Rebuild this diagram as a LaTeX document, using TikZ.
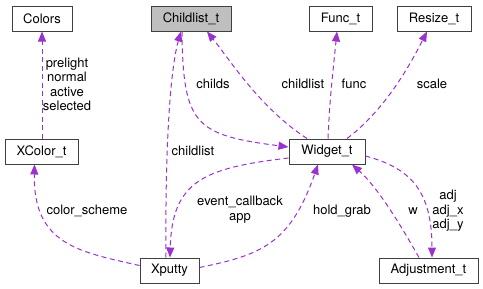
\documentclass[tikz,border=0pt]{standalone}
\usepackage{fontspec}
\setmainfont{TeX Gyre Heros}
\usetikzlibrary{arrows.meta}

\definecolor{edgepurple}{HTML}{9A32CD}
\definecolor{boxgray}{HTML}{BFBFBF}
\definecolor{boxline}{HTML}{404040}

\tikzset{
  cls/.style={draw=boxline, line width=1pt, minimum height=25pt, inner sep=0pt,
    font=\fontsize{13}{15}\selectfont},
  uses/.style={draw=edgepurple, line width=1pt, dash pattern=on 5pt off 3.5pt,
    -{Triangle[length=10pt,width=8pt,fill=edgepurple]}},
  lbl/.style={font=\fontsize{13}{14.5}\selectfont, align=center, inner sep=0pt},
}

\begin{document}
\begin{tikzpicture}[x=1pt, y=-1pt]
  \useasboundingbox (0,0) rectangle (483,289);

  % classes
  \node[cls, minimum width=60pt] (colors) at (42,18.5) {Colors};
  \node[cls, minimum width=80pt, fill=boxgray] (childlist) at (191,18.5) {Childlist\_t};
  \node[cls, minimum width=63pt] (func) at (340.5,18.5) {Func\_t};
  \node[cls, minimum width=74pt] (resize) at (434,18.5) {Resize\_t};
  \node[cls, minimum width=73pt] (xcolor) at (41.5,151.5) {XColor\_t};
  \node[cls, minimum width=76pt] (widget) at (327,151.5) {Widget\_t};
  \node[cls, minimum width=59pt] (xputty) at (169.5,270.5) {Xputty};
  \node[cls, minimum width=99pt] (adjust) at (428.5,270.5) {Adjustment\_t};

  % member links
  \draw[uses] ([xshift=0.5pt]xcolor.north) -- (colors.south);
  \draw[uses] ([yshift=5pt]xputty.west) .. controls (80,252) and (33,245) .. ([xshift=-7pt]xcolor.south);
  \draw[uses] ([xshift=-9pt]childlist.south) .. controls (183,125) and (195,135) .. ([yshift=4.5pt]widget.west);
  \draw[uses] ([xshift=-20pt]widget.north) .. controls (260,108) and (230,60) .. ([xshift=16pt]childlist.south);
  \draw[uses] ([xshift=-3.5pt]xputty.north) .. controls (165,150) and (170,70) .. ([xshift=-10pt]childlist.south);
  \draw[uses] ([xshift=1pt]widget.north) .. controls (330,100) .. ([xshift=-3.5pt]func.south);
  \draw[uses] ([xshift=20pt]widget.north) .. controls (385,110) and (410,65) .. ([xshift=-7pt]resize.south);
  \draw[uses] ([yshift=-6.5pt]widget.west) .. controls (205,168) and (172,180) .. ([xshift=0.5pt]xputty.north);
  \draw[uses] ([yshift=3pt]xputty.east) .. controls (260,255) and (290,245) .. ([xshift=-9pt]widget.south);
  \draw[uses] ([xshift=-9.5pt]adjust.north) .. controls (395,215) and (375,185) .. ([xshift=25pt]widget.south);
  \draw[uses] ([yshift=-4.5pt]widget.east) .. controls (410,168) and (432,190) .. ([xshift=3.5pt]adjust.north);

  % member names
  \node[lbl] (l-colors) at (67,84.5) {prelight\\normal\\active\\selected};
  \node[lbl] (l-scheme) at (87,211) {color\_scheme};
  \node[lbl] (l-childs) at (213,84) {childs};
  \node[lbl] (l-xlist) at (193,151) {childlist};
  \node[lbl] (l-wlist) at (303,84) {childlist};
  \node[lbl] (l-func) at (354,84) {func};
  \node[lbl] (l-scale) at (432,84) {scale};
  \node[lbl] (l-event) at (240,209.5) {event\_callback\\app};
  \node[lbl] (l-grab) at (342,211) {hold\_grab};
  \node[lbl] (l-w) at (413,211) {w};
  \node[lbl] (l-adj) at (448,211) {adj\\adj\_x\\adj\_y};
\end{tikzpicture}
\end{document}
